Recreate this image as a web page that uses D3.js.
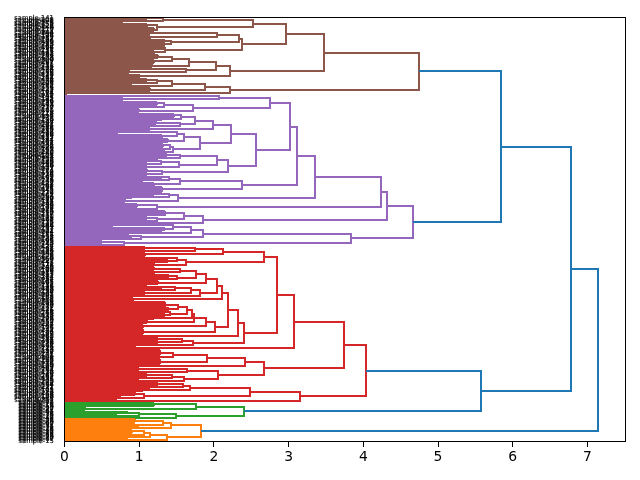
<!DOCTYPE html>
<html>
<head>
<meta charset="utf-8">
<script src="https://cdn.jsdelivr.net/npm/d3@7/dist/d3.min.js"></script>
<style>
  html, body { margin: 0; padding: 0; background: #fff; }
  svg { display: block; }
  text { font-family: "DejaVu Sans", sans-serif; }
  .plain-text { filter: grayscale(1); }
</style>
</head>
<body>
<svg id="chart" width="640" height="480"></svg>
<script>
// Hierarchical clustering merges: [distance, upper, lower] is a merge,
// [distance, count] is a tight run of leaves joined at that distance.
const brownTree = [4.75,
  [3.48,
    [2.96,
      [2.53,
        [1.32, [1.11, 2], [0.78, 2]],
        [1.24, [1.10, 3], [1.20, 3]]],
      [2.38,
        [2.34,
          [2.04, [1.15, 2], [1.15, 3]],
          [1.43, [1.35, 2], [1.35, 2]]],
        [1.35, [1.33, 3], [1.20, 3]]]],
    [2.21,
      [2.03,
        [1.67, [1.44, [1.25, 3], [1.20, 3]], [1.17, 3]],
        [1.63, [0, 1], [0.87, 3]]],
      [1.00, [0, 1], [0.90, 2]]]],
  [2.22,
    [1.88,
      [1.44, [1.24, [1.10, 2], [0.90, 2]], [0.75, 2]],
      [1.14, 3]],
    [0.03, 2]]];

const purpleTree = [4.67,
  [4.32,
    [4.24,
      [3.36,
        [3.11,
          [3.02,
            [2.75,
              [2.07, [0.78, 2], [0.78, 2]],
              [1.72, [1.33, [1.24, 3], [0.90, 2]], [1.00, 3]]],
            [2.56,
              [2.23,
                [1.99,
                  [1.75,
                    [1.56, [1.46, 3], [1.30, 2]],
                    [1.55, [1.22, 3], [1.15, 2]]],
                  [1.15, 2]],
                [1.82,
                  [1.60, [1.51, [0.72, 2], [1.30, 3]], [1.38, 3]],
                  [1.45, [1.41, [1.32, 3], [1.15, 2]], [1.35, 2]]]],
              [2.19,
                [2.04,
                  [1.55, [1.37, 2], [1.25, 2]],
                  [1.53, [1.29, [1.10, 2], [1.10, 2]], [1.00, 2]]],
                [1.31, [1.10, 3], [1.10, 2]]]]],
          [2.38,
            [1.55, [1.40, [1.30, 2], [1.05, 2]], [1.20, 3]],
            [1.30, 4]]],
        [1.52, [1.40, [1.20, 2], [0.90, 2]], [0.81, 3]]],
      [1.24, [0.97, 3], [0.47, 2]]],
    [1.85,
      [1.60,
        [1.35, [1.35, 2], [1.10, 2]],
        [1.24, [1.08, 2], [1.10, 2]]],
      [0, 1]]],
  [3.83,
    [1.85,
      [1.70, [1.45, [0.65, 2], [1.35, 3]], [1.30, 2]],
      [1.02, [0.87, 2], [0.90, 2]]],
    [0.80, [0.50, 2], [0.50, 2]]]];

const redTree = [4.03,
  [3.74,
    [3.07,
      [2.84,
        [2.67,
          [2.12, [1.75, [1.08, 2], [1.08, 2]], [1.08, 3]],
          [1.63, [1.50, [1.08, 2], [1.38, 2]], [1.20, 3]]],
        [2.40,
          [2.32,
            [2.19,
              [2.11,
                [2.04,
                  [1.90,
                    [1.76,
                      [1.55, [1.21, 2], [1.20, 3]],
                      [1.51, [1.40, 2], [1.25, 2]]],
                    [1.25, 3]],
                  [1.82,
                    [1.70, [1.48, [1.10, 2], [1.30, 2]], [1.08, 2]],
                    [1.08, 2]]],
                [0.92, 3]],
              [2.02,
                [1.89,
                  [1.74,
                    [1.71,
                      [1.64,
                        [1.52, [1.35, 4], [1.40, 2]],
                        [1.41, [1.35, 2], [1.35, 2]]],
                      [1.20, 2]],
                    [1.10, 3]],
                  [1.05, 3]],
                [1.05, 4]]],
            [1.00, 2]],
          [1.72, [1.57, [1.25, 2], [1.25, 2]], [0.96, 2]]]],
      [0.55, 2]],
    [2.67,
      [2.42,
        [1.91, [1.45, [1.28, 4], [1.28, 2]], [1.28, 4]],
        [0.03, 2]],
      [2.05,
        [1.64, [1.00, 2], [1.00, 2]],
        [1.60, [1.44, [1.10, 2], [1.00, 2]], [1.00, 2]]]]],
  [3.15,
    [2.48,
      [1.68, [1.59, [1.25, 2], [1.15, 2]], [1.05, 2]],
      [1.07, [0.95, 3], [0.75, 2]]],
    [0.70, 2]]];

const greenTree = [2.40,
  [1.76, [1.20, 3], [0.28, 3]],
  [1.49, [1.00, [0.85, 2], [0.70, 2]], [0, 1]]];

const orangeTree = [1.83,
  [1.43, [1.32, [0.95, 3], [0.95, 2]], [1.00, 2]],
  [1.37, [1.15, [1.07, [0.90, 3], [0.90, 2]], [0, 1]], [0.85, 2]]];

// Distances of the merges that join the coloured clusters.
const joinDistances = { root: 7.14, left: 6.78, upper: 5.84, lower: 5.58 };
const clusterColors = { brown: "#8c564b", purple: "#9467bd", red: "#d62728",
                        green: "#2ca02c", orange: "#ff7f0e", join: "#1f77b4" };
const xTicks = [0, 1, 2, 3, 4, 5, 6, 7];

// Sample numbers: the long names run through most of the chart, short ones
// are spread between them and gather at the bottom.
const longIds = [141,208,275,159,226,110,177,244,128,195,262,146,213,280,164,231,115,182,249,133,200,267,151,218,102,169,236,120,187,254,138,205,272,156,223,107,174,241,125,192,259,143,210,277,161,228,112,179,246,130,197,264,148,215,282,166,233,117,184,251,135,202,269,153,220,104,171,238,122,189,256,140,207,274,158,225,109,176,243,127,194,261,145,212,279,163,230,114,181,248,132,199,266,150,217,101,168,235,119,186,253,137,204,271,155,222,106,173,240,124,191,258,142,209,276,160,227,111,178,245,129,196,263,147,214,281,165,232,116,183,250,134,201,268,152,219,103,170,237,121,188,255,139,206,273,157,224,108,175,242,126,193,260,144,211,278,162,229,113,180,247,131,198,265,149,216,100,167,234,118,185,252,136,203,270,154,221,105,172,239,123,190,257];
const shortIds = [1,8,4,52,89,26,63,0,37,74,11,48,85,22,59,96,33,70,7,44,81,18,55,92,29,66,3,40,77,14,51,88,25,62,99,36,73,10,47,84,21,58,95,32,69,6,43,80,17,54,91,28,65,2,39,76,13,50,87,24,61,98,35,72,9,46,83,20,57,94,31,68,5,42,79,16,53,90,27,64,41,38,75,12,49,86,23,60,97,34,71,78,45,82,19,56,93,30,67,15];

const sampleIds = [];
{
  let a = 0, b = 0, run = 2;
  while (a < longIds.length) {
    for (let k = 0; k < run && a < longIds.length; k++) sampleIds.push(longIds[a++]);
    if (b < shortIds.length) sampleIds.push(shortIds[b++]);
    run = run === 2 ? 3 : 2;
  }
  while (b < shortIds.length) sampleIds.push(shortIds[b++]);
}

const margin = { left: 64.5, right: 625.5, top: 17.5, bottom: 441.5 };
const xMax = 7.51;

const x = d3.scaleLinear().domain([0, xMax]).range([margin.left, margin.right]);

const links = [];
let nextRow = 0;

// Walks a cluster top to bottom, collecting polylines in (distance, row) units.
function place(node, color) {
  if (node.length === 2) {
    const [dist, count] = node;
    const first = nextRow + 0.5;
    for (let i = 0; i < count; i++) {
      if (count > 1) links.push({ color, points: [[0, nextRow + 0.5], [dist, nextRow + 0.5]] });
      nextRow += 1;
    }
    const last = nextRow - 0.5;
    if (count > 1) links.push({ color, points: [[dist, first], [dist, last]] });
    return { dist: count > 1 ? dist : 0, row: (first + last) / 2 };
  }
  const [dist, upper, lower] = node;
  const a = place(upper, color);
  const b = place(lower, color);
  links.push({ color, points: [[a.dist, a.row], [dist, a.row], [dist, b.row], [b.dist, b.row]] });
  return { dist, row: (a.row + b.row) / 2 };
}

function join(dist, a, b) {
  links.push({ color: clusterColors.join,
    points: [[a.dist, a.row], [dist, a.row], [dist, b.row], [b.dist, b.row]] });
  return { dist, row: (a.row + b.row) / 2 };
}

const brownTop = place(brownTree, clusterColors.brown);
const purpleTop = place(purpleTree, clusterColors.purple);
const redTop = place(redTree, clusterColors.red);
const greenTop = place(greenTree, clusterColors.green);
const orangeTop = place(orangeTree, clusterColors.orange);

const upperJoin = join(joinDistances.upper, brownTop, purpleTop);
const lowerJoin = join(joinDistances.lower, redTop, greenTop);
const leftJoin = join(joinDistances.left, upperJoin, lowerJoin);
join(joinDistances.root, leftJoin, orangeTop);

const y = d3.scaleLinear().domain([0, nextRow]).range([17, 441]);

const svg = d3.select("#chart");
// Links land on whole pixels, so the dense leaf rows close into a solid band.
const line = d3.line().x(d => Math.round(x(d[0]))).y(d => Math.round(y(d[1])));

svg.append("g")
  .attr("fill", "none")
  .attr("stroke-width", 2)
  .attr("shape-rendering", "crispEdges")
  .selectAll("path")
  .data(links)
  .join("path")
  .attr("stroke", d => d.color)
  .attr("d", d => line(d.points));

// Leaf names sit to the left of the frame, overlapping at this density.
svg.append("g")
  .attr("class", "plain-text")
  .attr("font-size", 6.7)
  .attr("text-anchor", "end")
  .attr("fill", "#000")
  .attr("stroke", "#000")
  .attr("stroke-width", 0.15)
  .attr("text-rendering", "geometricPrecision")
  .selectAll("text")
  .data(d3.range(nextRow))
  .join("text")
  .attr("x", margin.left - 10.7)
  .attr("y", i => y(i + 0.5))
  .attr("dy", "0.36em")
  .text(i => "sample-" + sampleIds[i]);

// Frame
svg.append("rect")
  .attr("x", margin.left)
  .attr("y", margin.top)
  .attr("width", margin.right - margin.left)
  .attr("height", margin.bottom - margin.top)
  .attr("fill", "none")
  .attr("stroke", "#000")
  .attr("stroke-width", 1)
  .attr("shape-rendering", "crispEdges");

// Distance axis
const axis = svg.append("g")
  .attr("class", "plain-text")
  .attr("transform", `translate(0,${margin.bottom})`)
  .call(d3.axisBottom(x).tickValues(xTicks).tickFormat(d3.format("d"))
    .tickSize(5).tickPadding(4.5).tickSizeOuter(0).offset(0));
axis.select(".domain").remove();
axis.selectAll("line").attr("stroke", "#000").attr("stroke-width", 1).attr("shape-rendering", "crispEdges");
axis.selectAll("text").attr("font-size", 13.89).attr("font-family", '"DejaVu Sans", sans-serif').attr("fill", "#000");
</script>
</body>
</html>
